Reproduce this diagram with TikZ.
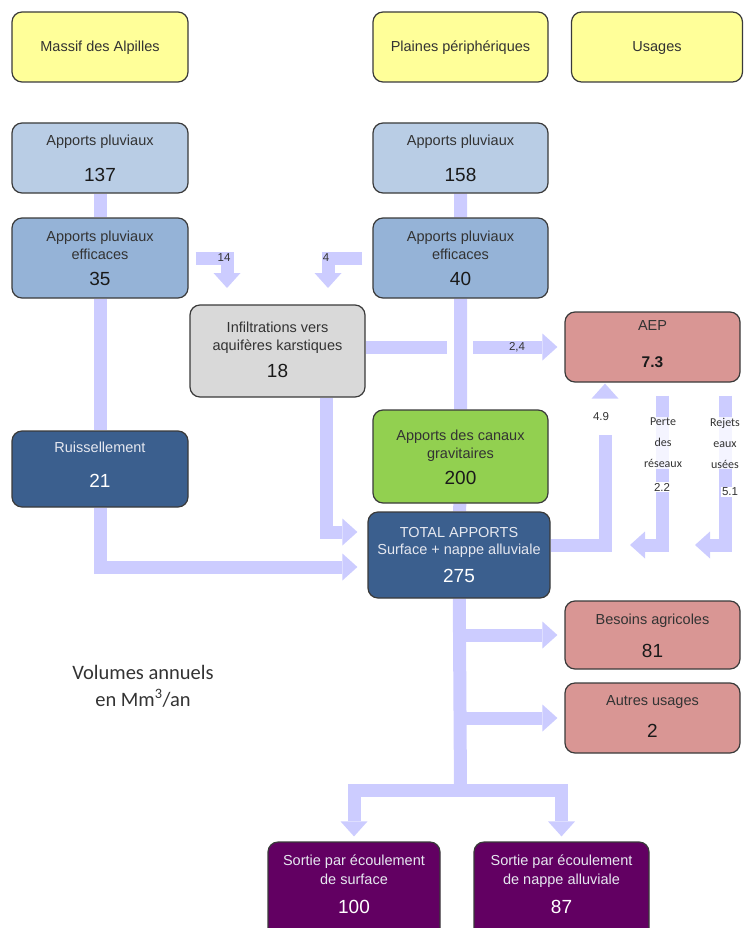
\documentclass[tikz,border=0pt]{standalone}
\usepackage{fontspec}
\setmainfont{Liberation Sans}
\newfontfamily\calibfont{Carlito}
\usetikzlibrary{arrows.meta}
\pgfdeclarelayer{bg}
\pgfsetlayers{bg,main}
\definecolor{yel}{HTML}{FFFF99}
\definecolor{lblue}{HTML}{B9CDE5}
\definecolor{mblue}{HTML}{95B3D7}
\definecolor{dblue}{HTML}{3B5F8E}
\definecolor{lgray}{HTML}{D9D9D9}
\definecolor{lred}{HTML}{D99694}
\definecolor{lgreen}{HTML}{92D050}
\definecolor{purp}{HTML}{620062}
\definecolor{barc}{HTML}{CCCCFF}
\definecolor{edge}{HTML}{3A3A3A}
\definecolor{tdark}{HTML}{333333}
\definecolor{tnum}{HTML}{1A1A1A}
\definecolor{tlight}{HTML}{E6E8F0}
\begin{document}
\begin{tikzpicture}[x=1pt,y=-1pt,
 box/.style={draw=edge, line width=1.2pt, rounded corners=10pt, inner sep=0pt},
 lab/.style={anchor=base, inner sep=0pt, font=\fontsize{14.5}{17}\selectfont, text=tdark},
 num/.style={anchor=base, inner sep=0pt, font=\fontsize{19}{21}\selectfont, text=tnum},
 small/.style={inner sep=1pt, font=\fontsize{11.5}{13}\selectfont, text=tdark},
 side/.style={inner sep=1pt, align=center, font=\calibfont\fontsize{12}{21}\selectfont, text=tdark, fill=white, fill opacity=0.8, text opacity=1},
 bar/.style={draw=barc, line width=13pt, line join=miter},
 arr/.style={bar, -{Triangle[width=27pt,length=15pt,line width=0pt]}},
]
\useasboundingbox (0,0) rectangle (744,928);

% boxes
\node[box, fill=yel, minimum width=176, minimum height=70] (hmas) at (100,47) {};
\node[box, fill=yel, minimum width=175, minimum height=70] (hpla) at (460.5,47) {};
\node[box, fill=yel, minimum width=171, minimum height=70] (huse) at (657,47) {};
\node[box, fill=lblue, minimum width=176, minimum height=70] (ap137) at (100,158) {};
\node[box, fill=lblue, minimum width=175, minimum height=70] (ap158) at (460.5,158) {};
\node[box, fill=mblue, minimum width=176, minimum height=80] (ef35) at (100,258) {};
\node[box, fill=mblue, minimum width=175, minimum height=80] (ef40) at (460.5,258) {};
\node[box, fill=lgray, minimum width=175, minimum height=92] (infil) at (277.5,351) {};
\node[box, fill=lred, minimum width=175, minimum height=70] (aep) at (652.5,347) {};
\node[box, fill=dblue, minimum width=176, minimum height=76] (ruis) at (100,469) {};
\node[box, fill=lgreen, minimum width=175, minimum height=93] (green) at (460.5,456.5) {};
\node[box, fill=dblue, minimum width=182, minimum height=86] (total) at (459,555) {};
\node[box, fill=lred, minimum width=175, minimum height=68] (besoins) at (652.5,635) {};
\node[box, fill=lred, minimum width=175, minimum height=70] (autres) at (652.5,718) {};
\node[box, fill=purp, minimum width=172, minimum height=100] (sort1) at (354,892) {};
\node[box, fill=purp, minimum width=175, minimum height=100] (sort2) at (561.5,892) {};

% texts
\node[lab] (tmas) at (100,52) {Massif des Alpilles};
\node[lab] (tpla) at (460.5,52) {Plaines périphériques};
\node[lab] (tuse) at (657,52) {Usages};
\node[lab] (t137a) at (100,146) {Apports pluviaux};
\node[num] (t137b) at (100,182) {137};
\node[lab] (t158a) at (460.5,146) {Apports pluviaux};
\node[num] (t158b) at (460.5,182) {158};
\node[lab] (t35a) at (100,241) {Apports pluviaux};
\node[lab] (t35b) at (100,259) {efficaces};
\node[num] (t35c) at (100,285) {35};
\node[lab] (t40a) at (460.5,241) {Apports pluviaux};
\node[lab] (t40b) at (460.5,259) {efficaces};
\node[num] (t40c) at (460.5,285) {40};
\node[lab] (tia) at (277.5,332) {Infiltrations vers};
\node[lab] (tib) at (277.5,350) {aquifères karstiques};
\node[num] (tic) at (277.5,377) {18};
\node[lab] (taa) at (652.5,330) {AEP};
\node[num, font=\bfseries\fontsize{15.5}{18}\selectfont] (tab) at (652.5,367) {7.3};
\node[lab, text=tlight] (tra) at (100,452) {Ruissellement};
\node[num, text=white] (trb) at (100,487) {21};
\node[lab] (tga) at (460.5,440) {Apports des canaux};
\node[lab] (tgb) at (460.5,458) {gravitaires};
\node[num] (tgc) at (460.5,484) {200};
\node[lab, text=tlight] (tta) at (459,537) {TOTAL APPORTS};
\node[lab, text=tlight] (ttb) at (459,554) {Surface + nappe alluviale};
\node[num, text=white] (ttc) at (459,582) {275};
\node[lab] (tba) at (652.5,624) {Besoins agricoles};
\node[num] (tbb) at (652.5,657) {81};
\node[lab] (tua) at (652.5,705) {Autres usages};
\node[num] (tub) at (652.5,737) {2};
\node[lab, text=tlight] (tsa) at (354,865) {Sortie par écoulement};
\node[lab, text=tlight] (tsb) at (354,884) {de surface};
\node[num, text=white] (tsc) at (354,913) {100};
\node[lab, text=tlight] (tna) at (561.5,865) {Sortie par écoulement};
\node[lab, text=tlight] (tnb) at (561.5,884) {de nappe alluviale};
\node[num, text=white] (tnc) at (561.5,913) {87};
\node[align=center, font=\calibfont\fontsize{20.5}{27}\selectfont, text=tdark] (vol) at (143,686) {Volumes annuels\\en Mm\textsuperscript{3}/an};

% connector helpers
\coordinate (t14) at (227,288);
\coordinate (t4) at (328,288);
\coordinate (c1) at (447,347);
\coordinate (c2) at (473,347);
\coordinate (colI) at (326,0);
\coordinate (y532) at (0,532);
\coordinate (y567) at (0,567);
\coordinate (y545) at (0,545);
\coordinate (col49) at (605,0);
\coordinate (colP) at (662,0);
\coordinate (colR) at (725,0);
\coordinate (pTip) at (630,545);
\coordinate (rTip) at (695,545);
\coordinate (split) at (460.5,790);

% labels on connectors
\node[small] (l14) at (224,258) {14};
\node[small] (l4) at (326,258) {4};
\node[small] (l24) at (517,347) {2,4};
\node[small, fill=white, minimum height=36, minimum width=22] (l49) at (601,417) {4.9};
\node[side] (lperte) at (663,443) {Perte\\des\\réseaux};
\node[small, fill=white] (l22) at (662,487) {2.2};
\node[side] (lrej) at (725,443) {Rejets\\eaux\\usées};
\node[small, fill=white] (l51) at (730,492) {5.1};

\begin{pgfonlayer}{bg}
\draw[bar] (ap137) -- (ef35) -- (ruis);
\draw[arr] (ruis.south) |- ([xshift=-10pt]total.west |- y567);
\draw[bar] (ap158) -- (ef40) -- (green) -- (total);
\draw[bar] (total) -- (split);
\draw[arr] (split) -| ([yshift=5pt]sort1.north);
\draw[arr] (split) -| ([yshift=5pt]sort2.north);
\draw[arr] (besoins.west -| total) -- ([xshift=-7pt]besoins.west);
\draw[arr] (autres.west -| total) -- ([xshift=-7pt]autres.west);
\draw[arr] ([xshift=7pt]ef35.east) -| (t14);
\draw[arr] ([xshift=-10pt]ef40.west) -| (t4);
\draw[bar] (infil.east |- aep.west) -- (c1);
\draw[arr] (c2) -- ([xshift=-7pt]aep.west);
\draw[arr] (infil.south -| colI) |- ([xshift=-10pt]total.west |- y532);
\draw[arr, shorten >=1pt] (total.east |- y545) -| (aep.south -| col49);
\draw[arr, shorten <=13pt] (aep.south -| colP) |- (pTip);
\draw[arr, shorten <=13pt] (aep.south -| colR) |- (rTip);
\end{pgfonlayer}
\end{tikzpicture}
\end{document}
